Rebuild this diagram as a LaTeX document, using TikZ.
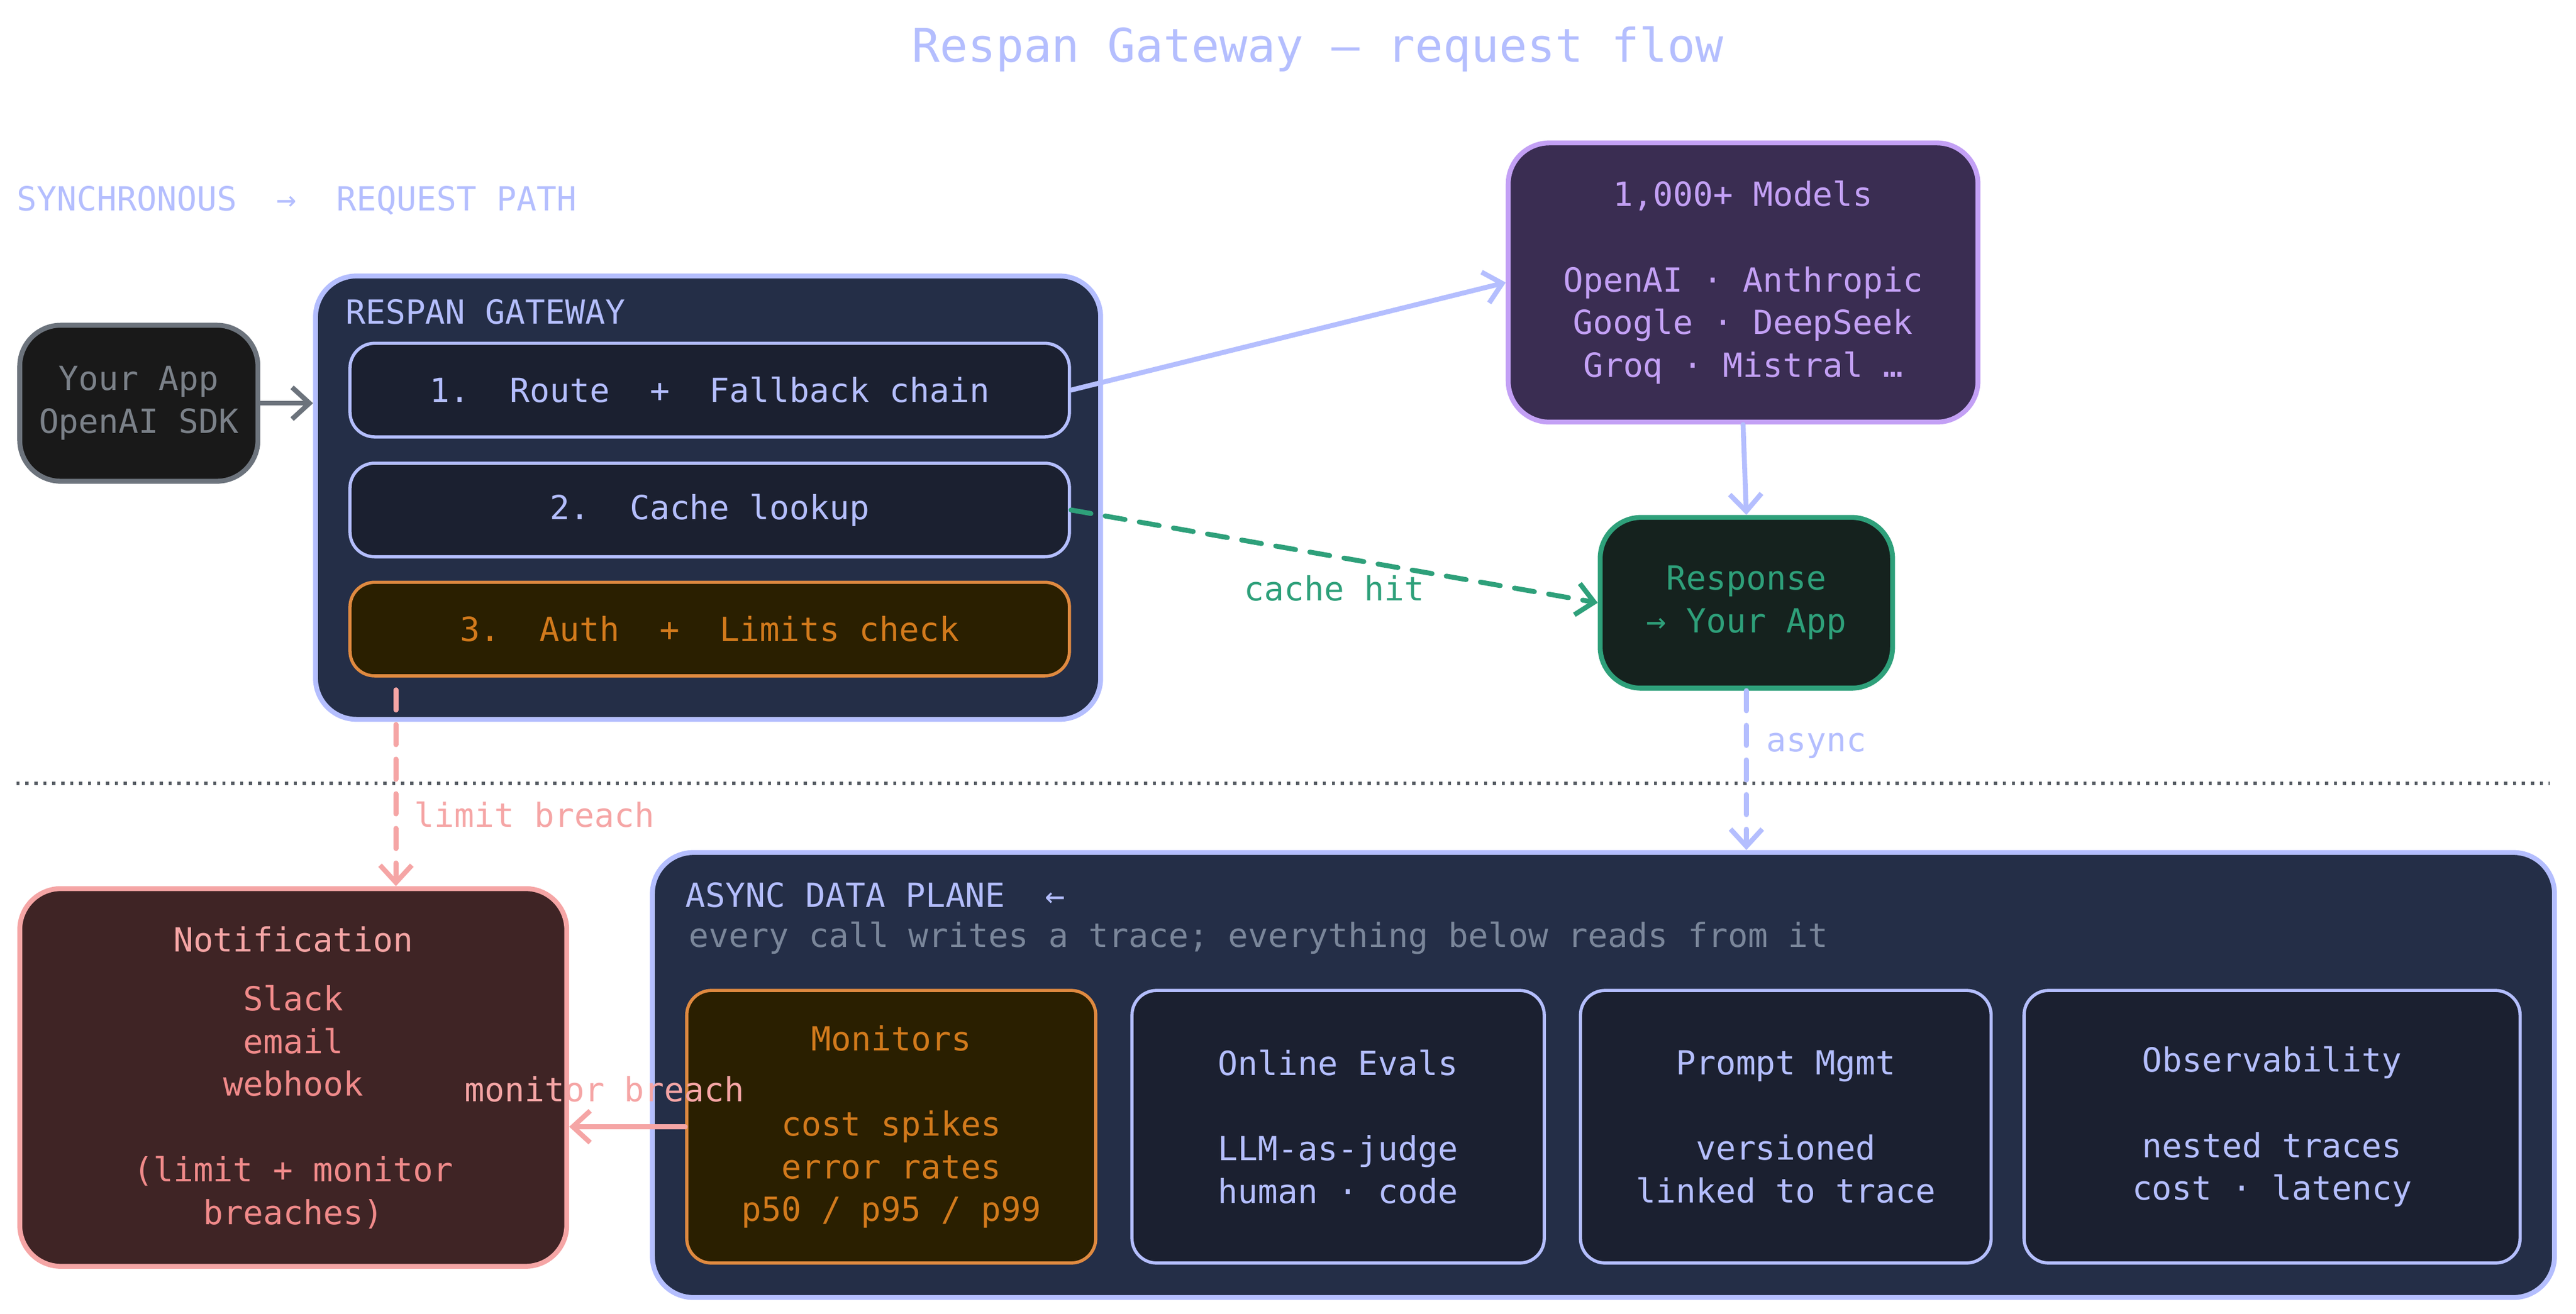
\documentclass[tikz,border=0pt]{standalone}
\usepackage{fontspec}
\setmainfont{DejaVu Sans Mono}
\usetikzlibrary{calc}
\usetikzlibrary{positioning}
\usetikzlibrary{arrows.meta}

\definecolor{lav}{HTML}{B4BEFE}
\definecolor{navy}{HTML}{242E47}
\definecolor{ink}{HTML}{1B2030}
\definecolor{org}{HTML}{E08A40}
\definecolor{orgtxt}{HTML}{D27A1C}
\definecolor{orgfill}{HTML}{2A1F00}
\definecolor{grn}{HTML}{2EA07A}
\definecolor{grnfill}{HTML}{15221E}
\definecolor{pur}{HTML}{C3A0F5}
\definecolor{purfill}{HTML}{3A2D52}
\definecolor{pnk}{HTML}{F5A5A5}
\definecolor{pnktxt}{HTML}{F08A8A}
\definecolor{pnkfill}{HTML}{3F2425}
\definecolor{gry}{HTML}{6C737C}
\definecolor{sub}{HTML}{7A869A}

\tikzset{
  box/.style={draw, rounded corners=0.36cm, align=center, inner sep=0pt,
    font=\fontsize{11.5}{14.8}\selectfont},
  big/.style={box, line width=1.7pt, rounded corners=0.5cm},
  inner/.style={box, line width=1.1pt, draw=lav, fill=ink, text=lav, rounded corners=0.3cm},
  txt/.style={font=\fontsize{11.5}{14.8}\selectfont, inner sep=0pt},
  arr/.style={line width=1.7pt, -{Straight Barb[length=6pt,width=11pt,line width=1.7pt]}, line cap=round},
}

\begin{document}
\begin{tikzpicture}[x=0.02cm, y=-0.02cm]
  \useasboundingbox (0,0) rectangle (1568,800);

  % titles
  \node[txt, text=lav, font=\fontsize{16.1}{20}\selectfont] (title) at (802,30) {Respan Gateway — request flow};
  \node[txt, text=lav, anchor=west] (sync) at (10,122) {SYNCHRONOUS~~→~~REQUEST PATH};

  % request path
  \node[big, draw=gry, fill=black!90, text=gry!90, minimum width=2.9cm, minimum height=1.9cm] (app) at (84.5,245.5) {Your App\\OpenAI SDK};
  \node[big, draw=lav, fill=navy, minimum width=9.56cm, minimum height=5.4cm] (gw) at (431,303) {};
  \node[txt, text=lav, anchor=west] (gwlbl) at (210,190) {RESPAN GATEWAY};
  \node[inner, minimum width=8.76cm, minimum height=1.14cm] (route) at (432,237.5) {1.~~Route~~+~~Fallback chain};
  \node[inner, minimum width=8.76cm, minimum height=1.14cm] (cache) at (432,310.5) {2.~~Cache lookup};
  \node[inner, draw=org, fill=orgfill, text=orgtxt, minimum width=8.76cm, minimum height=1.14cm] (auth) at (432,383) {3.~~Auth~~+~~Limits check};

  \node[big, draw=pur, fill=purfill, text=pur, minimum width=5.72cm, minimum height=3.4cm] (models) at (1061,172)
    {1,000+ Models\\ \\OpenAI · Anthropic\\Google · DeepSeek\\Groq · Mistral …};
  \node[big, draw=grn, fill=grnfill, text=grn, minimum width=3.56cm, minimum height=2.08cm] (resp) at (1063,367) {Response\\→ Your App};

  % divider
  \coordinate (dl) at (10,477);
  \coordinate (dr) at (1552,477);
  \draw[gry!80!black, line width=1.1pt, dotted] (dl) -- (dr);

  % async plane
  \node[big, draw=lav, fill=navy, minimum width=23.16cm, minimum height=5.42cm] (plane) at (976,654.5) {};
  \node[txt, text=lav, anchor=west] (plbl) at (417,545) {ASYNC DATA PLANE~~←};
  \node[txt, text=sub, anchor=west] (psub) at (419,571) {every call writes a trace; everything below reads from it};
  \node[inner, draw=org, fill=orgfill, text=orgtxt, minimum width=4.98cm, minimum height=3.32cm] (mon) at (542.5,686)
    {Monitors\\ \\cost spikes\\error rates\\p50 / p95 / p99};
  \node[inner, minimum width=5.02cm, minimum height=3.32cm] (evals) at (814.5,686) {Online Evals\\ \\LLM-as-judge\\human · code};
  \node[inner, minimum width=5.0cm, minimum height=3.32cm] (prompt) at (1087,686) {Prompt Mgmt\\ \\versioned\\linked to trace};
  \node[inner, minimum width=6.04cm, minimum height=3.32cm] (obs) at (1383,686) {Observability\\ \\nested traces\\cost · latency};

  \node[big, draw=pnk, fill=pnkfill, text=pnktxt, minimum width=6.66cm, minimum height=4.6cm] (notif) at (178.5,656)
    {\textcolor{pnk}{Notification}\\[0.2cm]Slack\\email\\webhook\\ \\(limit + monitor\\breaches)};

  % connectors
  \draw[arr, gry] (app) -- (gw.west |- app);
  \draw[arr, lav] (route.east) -- (models.west);
  \draw[arr, lav] (models.south) -- (resp.north);
  \draw[arr, grn, dashed, dash pattern=on 7pt off 5pt] (cache.east) -- node[txt, pos=0.5, below=0.2cm, text=grn] (hitlbl) {cache hit} (resp.west);
  \coordinate (lb) at (241,420);
  \draw[arr, pnk, dashed, dash pattern=on 7pt off 5pt] (lb) -- (lb |- notif.north);
  \node[txt, text=pnk, anchor=west] (lblbl) at (252,496) {limit breach};
  \draw[arr, lav, dashed, dash pattern=on 7pt off 5pt] (resp.south) -- (resp.south |- plane.north);
  \node[txt, text=lav, anchor=west] (asynclbl) at (1075,454) {async};
  \draw[arr, pnk] (mon.west) -- (notif.east |- mon.west);
  \node[txt, text=pnk] (mblbl) at (368,663) {monitor breach};
\end{tikzpicture}
\end{document}
